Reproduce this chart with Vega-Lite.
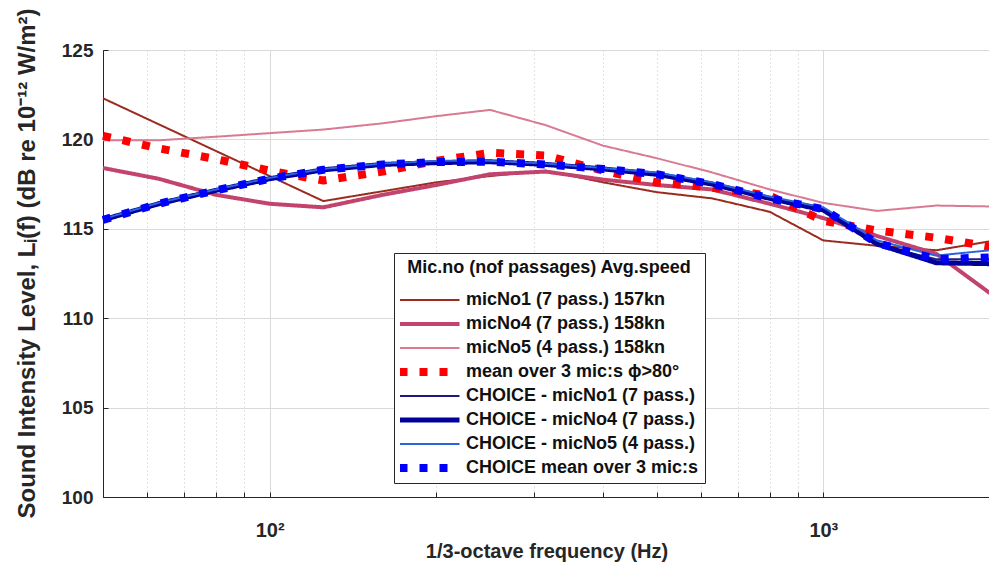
{
  "$schema": "https://vega.github.io/schema/vega-lite/v6.json",
  "width": 887,
  "height": 447,
  "autosize": {"type": "none"},
  "padding": {"left": 103, "top": 50, "right": 0, "bottom": 74},
  "background": "white",
  "config": {
    "view": {"stroke": "#262626", "strokeWidth": 1},
    "font": "Liberation Sans",
    "legend": {
      "title": "Mic.no (nof passages) Avg.speed",
      "orient": "none",
      "legendX": 291,
      "legendY": 203,
      "direction": "vertical",
      "strokeColor": "#262626",
      "fillColor": "white",
      "padding": 6,
      "symbolType": "M-7.5,0H7.5",
      "symbolSize": 64,
      "symbolOffset": 20.5,
      "labelOffset": 27.5,
      "clipHeight": 18,
      "labelFont": "Liberation Sans",
      "labelFontSize": 18,
      "labelFontWeight": "bold",
      "labelColor": "#111111",
      "labelLimit": 400,
      "titleFont": "Liberation Sans",
      "titleFontSize": 18,
      "titleFontWeight": "bold",
      "titleColor": "#111111",
      "titleAnchor": "middle",
      "titlePadding": 14,
      "titleLimit": 400,
      "rowPadding": 6
    }
  },
  "data": {
    "values": [
      {"s": "micNo1 (7 pass.) 157kn", "f": 50, "v": 122.3},
      {"s": "micNo1 (7 pass.) 157kn", "f": 125, "v": 116.55},
      {"s": "micNo1 (7 pass.) 157kn", "f": 160, "v": 117.1},
      {"s": "micNo1 (7 pass.) 157kn", "f": 200, "v": 117.6},
      {"s": "micNo1 (7 pass.) 157kn", "f": 250, "v": 117.95},
      {"s": "micNo1 (7 pass.) 157kn", "f": 315, "v": 118.25},
      {"s": "micNo1 (7 pass.) 157kn", "f": 400, "v": 117.6},
      {"s": "micNo1 (7 pass.) 157kn", "f": 500, "v": 117.05},
      {"s": "micNo1 (7 pass.) 157kn", "f": 630, "v": 116.7},
      {"s": "micNo1 (7 pass.) 157kn", "f": 800, "v": 115.95},
      {"s": "micNo1 (7 pass.) 157kn", "f": 1000, "v": 114.35},
      {"s": "micNo1 (7 pass.) 157kn", "f": 1250, "v": 114.05},
      {"s": "micNo1 (7 pass.) 157kn", "f": 1600, "v": 113.8},
      {"s": "micNo1 (7 pass.) 157kn", "f": 2000, "v": 114.3},

      {"s": "micNo4 (7 pass.) 158kn", "f": 50, "v": 118.4},
      {"s": "micNo4 (7 pass.) 158kn", "f": 63, "v": 117.8},
      {"s": "micNo4 (7 pass.) 158kn", "f": 80, "v": 116.9},
      {"s": "micNo4 (7 pass.) 158kn", "f": 100, "v": 116.4},
      {"s": "micNo4 (7 pass.) 158kn", "f": 125, "v": 116.2},
      {"s": "micNo4 (7 pass.) 158kn", "f": 160, "v": 116.9},
      {"s": "micNo4 (7 pass.) 158kn", "f": 200, "v": 117.45},
      {"s": "micNo4 (7 pass.) 158kn", "f": 250, "v": 118.05},
      {"s": "micNo4 (7 pass.) 158kn", "f": 315, "v": 118.2},
      {"s": "micNo4 (7 pass.) 158kn", "f": 400, "v": 117.75},
      {"s": "micNo4 (7 pass.) 158kn", "f": 500, "v": 117.45},
      {"s": "micNo4 (7 pass.) 158kn", "f": 630, "v": 117.2},
      {"s": "micNo4 (7 pass.) 158kn", "f": 800, "v": 116.4},
      {"s": "micNo4 (7 pass.) 158kn", "f": 1000, "v": 115.6},
      {"s": "micNo4 (7 pass.) 158kn", "f": 1250, "v": 114.6},
      {"s": "micNo4 (7 pass.) 158kn", "f": 1600, "v": 113.6},
      {"s": "micNo4 (7 pass.) 158kn", "f": 2000, "v": 111.4},

      {"s": "micNo5 (4 pass.) 158kn", "f": 50, "v": 119.95},
      {"s": "micNo5 (4 pass.) 158kn", "f": 63, "v": 119.95},
      {"s": "micNo5 (4 pass.) 158kn", "f": 80, "v": 120.15},
      {"s": "micNo5 (4 pass.) 158kn", "f": 100, "v": 120.35},
      {"s": "micNo5 (4 pass.) 158kn", "f": 125, "v": 120.55},
      {"s": "micNo5 (4 pass.) 158kn", "f": 160, "v": 120.9},
      {"s": "micNo5 (4 pass.) 158kn", "f": 200, "v": 121.3},
      {"s": "micNo5 (4 pass.) 158kn", "f": 250, "v": 121.65},
      {"s": "micNo5 (4 pass.) 158kn", "f": 315, "v": 120.8},
      {"s": "micNo5 (4 pass.) 158kn", "f": 400, "v": 119.65},
      {"s": "micNo5 (4 pass.) 158kn", "f": 500, "v": 118.95},
      {"s": "micNo5 (4 pass.) 158kn", "f": 630, "v": 118.15},
      {"s": "micNo5 (4 pass.) 158kn", "f": 800, "v": 117.2},
      {"s": "micNo5 (4 pass.) 158kn", "f": 1000, "v": 116.45},
      {"s": "micNo5 (4 pass.) 158kn", "f": 1250, "v": 116.0},
      {"s": "micNo5 (4 pass.) 158kn", "f": 1600, "v": 116.3},
      {"s": "micNo5 (4 pass.) 158kn", "f": 2000, "v": 116.25},

      {"s": "mean over 3 mic:s ϕ>80°", "f": 50, "v": 120.2},
      {"s": "mean over 3 mic:s ϕ>80°", "f": 63, "v": 119.5},
      {"s": "mean over 3 mic:s ϕ>80°", "f": 80, "v": 118.9},
      {"s": "mean over 3 mic:s ϕ>80°", "f": 100, "v": 118.25},
      {"s": "mean over 3 mic:s ϕ>80°", "f": 125, "v": 117.7},
      {"s": "mean over 3 mic:s ϕ>80°", "f": 160, "v": 118.2},
      {"s": "mean over 3 mic:s ϕ>80°", "f": 200, "v": 118.8},
      {"s": "mean over 3 mic:s ϕ>80°", "f": 250, "v": 119.25},
      {"s": "mean over 3 mic:s ϕ>80°", "f": 315, "v": 119.1},
      {"s": "mean over 3 mic:s ϕ>80°", "f": 400, "v": 118.25},
      {"s": "mean over 3 mic:s ϕ>80°", "f": 500, "v": 117.6},
      {"s": "mean over 3 mic:s ϕ>80°", "f": 630, "v": 117.3},
      {"s": "mean over 3 mic:s ϕ>80°", "f": 800, "v": 116.85},
      {"s": "mean over 3 mic:s ϕ>80°", "f": 1000, "v": 115.45},
      {"s": "mean over 3 mic:s ϕ>80°", "f": 1250, "v": 114.9},
      {"s": "mean over 3 mic:s ϕ>80°", "f": 1600, "v": 114.5},
      {"s": "mean over 3 mic:s ϕ>80°", "f": 2000, "v": 114.0},

      {"s": "CHOICE - micNo1 (7 pass.)", "f": 50, "v": 115.45},
      {"s": "CHOICE - micNo1 (7 pass.)", "f": 63, "v": 116.35},
      {"s": "CHOICE - micNo1 (7 pass.)", "f": 80, "v": 117.1},
      {"s": "CHOICE - micNo1 (7 pass.)", "f": 100, "v": 117.75},
      {"s": "CHOICE - micNo1 (7 pass.)", "f": 125, "v": 118.25},
      {"s": "CHOICE - micNo1 (7 pass.)", "f": 160, "v": 118.55},
      {"s": "CHOICE - micNo1 (7 pass.)", "f": 200, "v": 118.7},
      {"s": "CHOICE - micNo1 (7 pass.)", "f": 250, "v": 118.7},
      {"s": "CHOICE - micNo1 (7 pass.)", "f": 315, "v": 118.55},
      {"s": "CHOICE - micNo1 (7 pass.)", "f": 400, "v": 118.3},
      {"s": "CHOICE - micNo1 (7 pass.)", "f": 500, "v": 118.0},
      {"s": "CHOICE - micNo1 (7 pass.)", "f": 630, "v": 117.45},
      {"s": "CHOICE - micNo1 (7 pass.)", "f": 800, "v": 116.65},
      {"s": "CHOICE - micNo1 (7 pass.)", "f": 1000, "v": 116.0},
      {"s": "CHOICE - micNo1 (7 pass.)", "f": 1250, "v": 114.1},
      {"s": "CHOICE - micNo1 (7 pass.)", "f": 1600, "v": 113.3},
      {"s": "CHOICE - micNo1 (7 pass.)", "f": 2000, "v": 113.3},

      {"s": "CHOICE - micNo4 (7 pass.)", "f": 50, "v": 115.5},
      {"s": "CHOICE - micNo4 (7 pass.)", "f": 63, "v": 116.4},
      {"s": "CHOICE - micNo4 (7 pass.)", "f": 80, "v": 117.15},
      {"s": "CHOICE - micNo4 (7 pass.)", "f": 100, "v": 117.8},
      {"s": "CHOICE - micNo4 (7 pass.)", "f": 125, "v": 118.3},
      {"s": "CHOICE - micNo4 (7 pass.)", "f": 160, "v": 118.6},
      {"s": "CHOICE - micNo4 (7 pass.)", "f": 200, "v": 118.7},
      {"s": "CHOICE - micNo4 (7 pass.)", "f": 250, "v": 118.75},
      {"s": "CHOICE - micNo4 (7 pass.)", "f": 315, "v": 118.6},
      {"s": "CHOICE - micNo4 (7 pass.)", "f": 400, "v": 118.35},
      {"s": "CHOICE - micNo4 (7 pass.)", "f": 500, "v": 118.05},
      {"s": "CHOICE - micNo4 (7 pass.)", "f": 630, "v": 117.5},
      {"s": "CHOICE - micNo4 (7 pass.)", "f": 800, "v": 116.7},
      {"s": "CHOICE - micNo4 (7 pass.)", "f": 1000, "v": 116.05},
      {"s": "CHOICE - micNo4 (7 pass.)", "f": 1250, "v": 114.15},
      {"s": "CHOICE - micNo4 (7 pass.)", "f": 1600, "v": 113.1},
      {"s": "CHOICE - micNo4 (7 pass.)", "f": 2000, "v": 113.05},

      {"s": "CHOICE - micNo5 (4 pass.)", "f": 50, "v": 115.55},
      {"s": "CHOICE - micNo5 (4 pass.)", "f": 63, "v": 116.45},
      {"s": "CHOICE - micNo5 (4 pass.)", "f": 80, "v": 117.2},
      {"s": "CHOICE - micNo5 (4 pass.)", "f": 100, "v": 117.85},
      {"s": "CHOICE - micNo5 (4 pass.)", "f": 125, "v": 118.35},
      {"s": "CHOICE - micNo5 (4 pass.)", "f": 160, "v": 118.65},
      {"s": "CHOICE - micNo5 (4 pass.)", "f": 200, "v": 118.8},
      {"s": "CHOICE - micNo5 (4 pass.)", "f": 250, "v": 118.8},
      {"s": "CHOICE - micNo5 (4 pass.)", "f": 315, "v": 118.65},
      {"s": "CHOICE - micNo5 (4 pass.)", "f": 400, "v": 118.4},
      {"s": "CHOICE - micNo5 (4 pass.)", "f": 500, "v": 118.15},
      {"s": "CHOICE - micNo5 (4 pass.)", "f": 630, "v": 117.6},
      {"s": "CHOICE - micNo5 (4 pass.)", "f": 800, "v": 116.8},
      {"s": "CHOICE - micNo5 (4 pass.)", "f": 1000, "v": 116.2},
      {"s": "CHOICE - micNo5 (4 pass.)", "f": 1250, "v": 114.35},
      {"s": "CHOICE - micNo5 (4 pass.)", "f": 1600, "v": 113.5},
      {"s": "CHOICE - micNo5 (4 pass.)", "f": 2000, "v": 113.8},

      {"s": "CHOICE mean over 3 mic:s", "f": 50, "v": 115.5},
      {"s": "CHOICE mean over 3 mic:s", "f": 63, "v": 116.4},
      {"s": "CHOICE mean over 3 mic:s", "f": 80, "v": 117.15},
      {"s": "CHOICE mean over 3 mic:s", "f": 100, "v": 117.8},
      {"s": "CHOICE mean over 3 mic:s", "f": 125, "v": 118.3},
      {"s": "CHOICE mean over 3 mic:s", "f": 160, "v": 118.6},
      {"s": "CHOICE mean over 3 mic:s", "f": 200, "v": 118.73},
      {"s": "CHOICE mean over 3 mic:s", "f": 250, "v": 118.75},
      {"s": "CHOICE mean over 3 mic:s", "f": 315, "v": 118.6},
      {"s": "CHOICE mean over 3 mic:s", "f": 400, "v": 118.35},
      {"s": "CHOICE mean over 3 mic:s", "f": 500, "v": 118.05},
      {"s": "CHOICE mean over 3 mic:s", "f": 630, "v": 117.5},
      {"s": "CHOICE mean over 3 mic:s", "f": 800, "v": 116.7},
      {"s": "CHOICE mean over 3 mic:s", "f": 1000, "v": 116.1},
      {"s": "CHOICE mean over 3 mic:s", "f": 1250, "v": 114.2},
      {"s": "CHOICE mean over 3 mic:s", "f": 1600, "v": 113.3},
      {"s": "CHOICE mean over 3 mic:s", "f": 2000, "v": 113.4}
    ]
  },
  "encoding": {
    "x": {
      "field": "f",
      "type": "quantitative",
      "scale": {"type": "log", "domain": [50, 2000]},
      "axis": {
        "values": [50, 60, 70, 80, 90, 100, 200, 300, 400, 500, 600, 700, 800, 900, 1000, 2000],
        "labelExpr": "datum.value == 100 ? '10²' : (datum.value == 1000 ? '10³' : '')",
        "labelOverlap": false,
        "labelFlush": false,
        "labelFont": "Liberation Sans",
        "labelFontSize": 20,
        "labelFontWeight": "bold",
        "labelColor": "#262626",
        "labelPadding": 28,
        "ticks": true,
        "tickSize": -5,
        "tickColor": "#262626",
        "domainColor": "#262626",
        "grid": true,
        "gridColor": {"condition": {"test": "datum.value == 100 || datum.value == 1000", "value": "#d9d9d9"}, "value": "#c4c4c4"},
        "gridDash": {"condition": {"test": "datum.value == 100 || datum.value == 1000", "value": []}, "value": [1, 3]},
        "title": "1/3-octave frequency (Hz)",
        "titleFont": "Liberation Sans",
        "titleFontSize": 20,
        "titleFontWeight": "bold",
        "titleColor": "#262626",
        "titlePadding": 1
      }
    },
    "y": {
      "field": "v",
      "type": "quantitative",
      "scale": {"domain": [100, 125]},
      "axis": {
        "values": [100, 105, 110, 115, 120, 125],
        "labelFont": "Liberation Sans",
        "labelFontSize": 19,
        "labelFontWeight": "bold",
        "labelColor": "#262626",
        "labelPadding": 15,
        "ticks": true,
        "tickSize": -5,
        "tickColor": "#262626",
        "domainColor": "#262626",
        "gridColor": "#d9d9d9",
        "title": "Sound Intensity Level, Lᵢ(f) (dB re 10⁻¹² W/m²)",
        "titleFont": "Liberation Sans",
        "titleFontSize": 24,
        "titleFontWeight": "bold",
        "titleColor": "#262626",
        "titlePadding": 22,
        "titleY": 213
      }
    },
    "color": {
      "field": "s",
      "type": "nominal",
      "scale": {
        "domain": ["micNo1 (7 pass.) 157kn", "micNo4 (7 pass.) 158kn", "micNo5 (4 pass.) 158kn", "mean over 3 mic:s ϕ>80°", "CHOICE - micNo1 (7 pass.)", "CHOICE - micNo4 (7 pass.)", "CHOICE - micNo5 (4 pass.)", "CHOICE mean over 3 mic:s"],
        "range": ["#9B2B1F", "#C2446E", "#D97A93", "#FF0000", "#1C1C7A", "#00009C", "#2A63E0", "#0000FF"]
      },
      "legend": {"title": "Mic.no (nof passages) Avg.speed"}
    },
    "strokeDash": {
      "field": "s",
      "type": "nominal",
      "scale": {
        "domain": ["micNo1 (7 pass.) 157kn", "micNo4 (7 pass.) 158kn", "micNo5 (4 pass.) 158kn", "mean over 3 mic:s ϕ>80°", "CHOICE - micNo1 (7 pass.)", "CHOICE - micNo4 (7 pass.)", "CHOICE - micNo5 (4 pass.)", "CHOICE mean over 3 mic:s"],
        "range": [[1, 0], [1, 0], [1, 0], [8, 12], [1, 0], [1, 0], [1, 0], [8, 12]]
      },
      "legend": {"title": "Mic.no (nof passages) Avg.speed"}
    },
    "strokeWidth": {
      "field": "s",
      "type": "nominal",
      "scale": {
        "type": "ordinal",
        "domain": ["micNo1 (7 pass.) 157kn", "micNo4 (7 pass.) 158kn", "micNo5 (4 pass.) 158kn", "mean over 3 mic:s ϕ>80°", "CHOICE - micNo1 (7 pass.)", "CHOICE - micNo4 (7 pass.)", "CHOICE - micNo5 (4 pass.)", "CHOICE mean over 3 mic:s"],
        "range": [2, 4, 2, 8, 2, 5, 2, 8]
      },
      "legend": {"title": "Mic.no (nof passages) Avg.speed"}
    }
  },
  "layer": [
    {"transform": [{"filter": {"field": "s", "equal": "micNo1 (7 pass.) 157kn"}}], "mark": {"type": "line", "strokeCap": "butt", "strokeJoin": "round"}},
    {"transform": [{"filter": {"field": "s", "equal": "micNo4 (7 pass.) 158kn"}}], "mark": {"type": "line", "strokeCap": "butt", "strokeJoin": "round"}},
    {"transform": [{"filter": {"field": "s", "equal": "micNo5 (4 pass.) 158kn"}}], "mark": {"type": "line", "strokeCap": "butt", "strokeJoin": "round"}},
    {"transform": [{"filter": {"field": "s", "equal": "mean over 3 mic:s ϕ>80°"}}], "mark": {"type": "line", "strokeCap": "butt", "strokeJoin": "round"}},
    {"transform": [{"filter": {"field": "s", "equal": "CHOICE - micNo1 (7 pass.)"}}], "mark": {"type": "line", "strokeCap": "butt", "strokeJoin": "round"}},
    {"transform": [{"filter": {"field": "s", "equal": "CHOICE - micNo4 (7 pass.)"}}], "mark": {"type": "line", "strokeCap": "butt", "strokeJoin": "round"}},
    {"transform": [{"filter": {"field": "s", "equal": "CHOICE - micNo5 (4 pass.)"}}], "mark": {"type": "line", "strokeCap": "butt", "strokeJoin": "round"}},
    {"transform": [{"filter": {"field": "s", "equal": "CHOICE mean over 3 mic:s"}}], "mark": {"type": "line", "strokeCap": "butt", "strokeJoin": "round"}}
  ]
}
